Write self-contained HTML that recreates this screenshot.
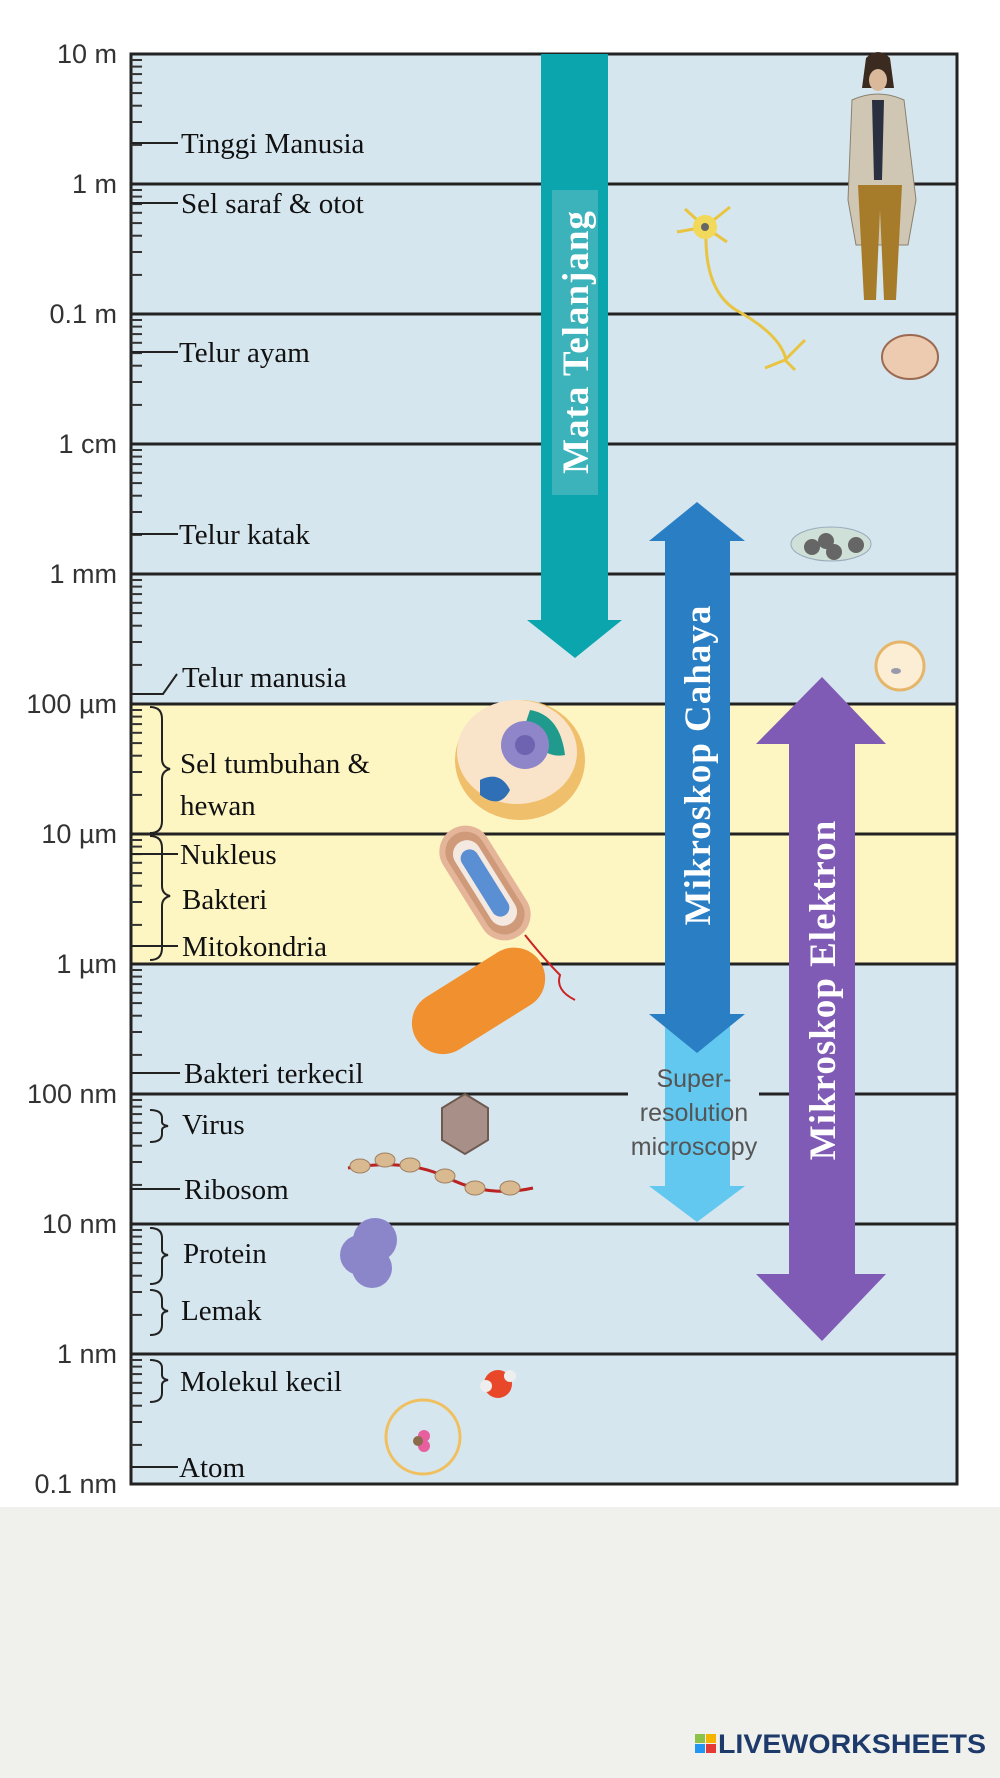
<!DOCTYPE html>
<html><head><meta charset="utf-8"><style>
html,body{margin:0;padding:0;background:#fff}
svg{display:block}
.lab{font-family:"Liberation Serif",serif;font-size:29px;fill:#111}
.ax{font-family:"Liberation Sans",sans-serif;font-size:27px;fill:#333}
.arr{font-family:"Liberation Serif",serif;font-weight:bold;font-size:37px;fill:#fff;letter-spacing:1px}
</style></head><body>
<svg width="1000" height="1778" viewBox="0 0 1000 1778" xmlns="http://www.w3.org/2000/svg">
<defs>
<g id="dec" stroke="#333" stroke-width="2">
<line x1="131" y1="-39.1" x2="142" y2="-39.1"/><line x1="131" y1="-62" x2="142" y2="-62"/>
<line x1="131" y1="-78.3" x2="142" y2="-78.3"/><line x1="131" y1="-90.9" x2="142" y2="-90.9"/>
<line x1="131" y1="-101.2" x2="142" y2="-101.2"/><line x1="131" y1="-109.9" x2="142" y2="-109.9"/>
<line x1="131" y1="-117.4" x2="142" y2="-117.4"/><line x1="131" y1="-124" x2="142" y2="-124"/>
</g>
</defs>
<rect x="0" y="0" width="1000" height="1507" fill="#fff"/>
<rect x="0" y="1507" width="1000" height="271" fill="#f0f0ec"/>
<rect x="131" y="54" width="826" height="1430" fill="#d6e6ef"/>
<rect x="131" y="704" width="826" height="260" fill="#fdf5c2"/>
<g stroke="#222" stroke-width="3">
<line x1="131" y1="184" x2="957" y2="184"/><line x1="131" y1="314" x2="957" y2="314"/>
<line x1="131" y1="444" x2="957" y2="444"/><line x1="131" y1="574" x2="957" y2="574"/>
<line x1="131" y1="704" x2="957" y2="704"/><line x1="131" y1="834" x2="957" y2="834"/>
<line x1="131" y1="964" x2="957" y2="964"/>
<line x1="131" y1="1094" x2="628" y2="1094"/><line x1="759" y1="1094" x2="957" y2="1094"/>
<line x1="131" y1="1224" x2="957" y2="1224"/><line x1="131" y1="1354" x2="957" y2="1354"/>
<rect x="131" y="54" width="826" height="1430" fill="none"/>
</g>
<use href="#dec" transform="translate(0,184)"/><use href="#dec" transform="translate(0,314)"/>
<use href="#dec" transform="translate(0,444)"/><use href="#dec" transform="translate(0,574)"/>
<use href="#dec" transform="translate(0,704)"/><use href="#dec" transform="translate(0,834)"/>
<use href="#dec" transform="translate(0,964)"/><use href="#dec" transform="translate(0,1094)"/>
<use href="#dec" transform="translate(0,1224)"/><use href="#dec" transform="translate(0,1354)"/>
<use href="#dec" transform="translate(0,1484)"/>
<g class="ax" text-anchor="end">
<text x="117" y="63">10 m</text><text x="117" y="193">1 m</text><text x="117" y="323">0.1 m</text>
<text x="117" y="453">1 cm</text><text x="117" y="583">1 mm</text><text x="117" y="713">100 µm</text>
<text x="117" y="843">10 µm</text><text x="117" y="973">1 µm</text><text x="117" y="1103">100 nm</text>
<text x="117" y="1233">10 nm</text><text x="117" y="1363">1 nm</text><text x="117" y="1493">0.1 nm</text>
</g>
<g stroke="#222" stroke-width="2" fill="none">
<line x1="131" y1="143" x2="178" y2="143"/><line x1="131" y1="203" x2="178" y2="203"/>
<line x1="131" y1="352" x2="178" y2="352"/><line x1="131" y1="534" x2="178" y2="534"/>
<polyline points="131,694 163,694 177,674"/>
<line x1="131" y1="854" x2="178" y2="854"/><line x1="131" y1="946" x2="178" y2="946"/>
<line x1="131" y1="1073" x2="180" y2="1073"/><line x1="131" y1="1189" x2="180" y2="1189"/>
<line x1="131" y1="1467" x2="178" y2="1467"/>
<path d="M150,707 q12,0 12,12 v40 q0,8 8,10 q-8,2 -8,10 v42 q0,12 -12,12"/>
<path d="M150,836 q12,0 12,12 v38 q0,8 8,10 q-8,2 -8,10 v42 q0,12 -12,12"/>
<path d="M150,1110 q12,0 12,8 v4 q0,3 6,4 q-6,1 -6,4 v4 q0,8 -12,8"/>
<path d="M150,1228 q12,0 12,10 v12 q0,4 6,5 q-6,1 -6,5 v14 q0,10 -12,10"/>
<path d="M150,1290 q12,0 12,10 v6 q0,4 6,5 q-6,1 -6,5 v9 q0,10 -12,10"/>
<path d="M150,1360 q12,0 12,8 v7 q0,4 6,5 q-6,1 -6,5 v8 q0,9 -12,9"/>
</g>
<g class="lab">
<text x="181" y="153">Tinggi Manusia</text><text x="181" y="213">Sel saraf &amp; otot</text>
<text x="179" y="362">Telur ayam</text><text x="179" y="544">Telur katak</text>
<text x="182" y="687">Telur manusia</text><text x="180" y="773">Sel tumbuhan &amp;</text>
<text x="180" y="815">hewan</text><text x="180" y="864">Nukleus</text>
<text x="182" y="909">Bakteri</text><text x="182" y="956">Mitokondria</text>
<text x="184" y="1083">Bakteri terkecil</text><text x="182" y="1134">Virus</text>
<text x="184" y="1199">Ribosom</text><text x="183" y="1263">Protein</text>
<text x="181" y="1320">Lemak</text><text x="180" y="1391">Molekul kecil</text>
<text x="179" y="1477">Atom</text>
</g>
<polygon points="541,54 608,54 608,620 622,620 575,658 527,620 541,620" fill="#0aa5ad"/>
<rect x="552" y="190" width="46" height="305" fill="#3cb3bb"/>
<text class="arr" transform="translate(588,342) rotate(-90)" text-anchor="middle">Mata Telanjang</text>
<polygon points="665,1014 730,1014 730,1186 745,1186 697,1222 649,1186 665,1186" fill="#62c8f0"/>
<polygon points="697,502 745,541 730,541 730,1014 745,1014 697,1053 649,1014 665,1014 665,541 649,541" fill="#2a7fc4"/>
<text class="arr" transform="translate(710,765) rotate(-90)" text-anchor="middle">Mikroskop Cahaya</text>
<g font-family="Liberation Sans,sans-serif" font-size="25" fill="#555" text-anchor="middle">
<text x="694" y="1087">Super-</text><text x="694" y="1121">resolution</text><text x="694" y="1155">microscopy</text>
</g>
<polygon points="822,677 886,744 855,744 855,1274 886,1274 822,1341 756,1274 789,1274 789,744 756,744" fill="#7f5bb5"/>
<text class="arr" transform="translate(835,990) rotate(-90)" text-anchor="middle">Mikroskop Elektron</text>
<g>
<path d="M866,58 q12,-12 24,0 l4,30 h-32 z" fill="#3b2a20"/>
<ellipse cx="878" cy="80" rx="9" ry="11" fill="#d9b99a"/>
<path d="M852,100 q26,-12 52,0 l12,100 -8,45 h-52 l-8,-45 z" fill="#cfc6b3" stroke="#8a806e"/>
<path d="M858,185 h44 l-6,115 h-12 l-4,-90 -4,90 h-12 z" fill="#a67c2a"/>
<path d="M872,100 h12 l-2,80 h-8 z" fill="#2a3040"/>
</g>
<g stroke="#e8c440" stroke-width="3" fill="none">
<path d="M706,230 q-2,60 30,80 q45,25 50,50"/><path d="M705,227 l-20,-18 M705,227 l25,-20 M705,227 l-28,5 M705,227 l22,15 M785,360 l20,-20 M785,360 l-20,8 M785,360 l10,10"/>
</g>
<circle cx="705" cy="227" r="12" fill="#f2d95a"/><circle cx="705" cy="227" r="4" fill="#666"/>
<ellipse cx="910" cy="357" rx="28" ry="22" fill="#eccbb0" stroke="#9b6a50" stroke-width="2"/>
<ellipse cx="831" cy="544" rx="40" ry="17" fill="#cfe0d8" stroke="#9ab"/>
<g fill="#666"><circle cx="812" cy="547" r="8"/><circle cx="826" cy="541" r="8"/><circle cx="834" cy="552" r="8"/><circle cx="856" cy="545" r="8"/></g>
<circle cx="900" cy="666" r="24" fill="#fbeed5" stroke="#e5b56a" stroke-width="3"/><ellipse cx="896" cy="671" rx="5" ry="3" fill="#99a"/>
<ellipse cx="520" cy="760" rx="65" ry="60" fill="#f0bf6c"/><ellipse cx="517" cy="752" rx="60" ry="52" fill="#f9e4c9"/>
<path d="M530,710 q30,5 35,45 q-25,5 -40,-30z" fill="#1f9a8c"/>
<circle cx="525" cy="745" r="24" fill="#8e86c8"/><circle cx="525" cy="745" r="10" fill="#6d63b0"/>
<path d="M480,780 q20,-10 30,10 q-10,20 -30,5z" fill="#2f6fb5"/>
<g transform="rotate(58 485 883)"><rect x="425" y="860" width="120" height="46" rx="23" fill="#cf9a7a" stroke="#e5b59a" stroke-width="6"/><rect x="437" y="869" width="96" height="28" rx="14" fill="#f3e9e0"/><rect x="447" y="874" width="76" height="18" rx="9" fill="#5b8fd3"/></g>
<path d="M525,935 q20,25 35,40 q-5,15 15,25" stroke="#c22" stroke-width="2" fill="none"/>
<g transform="rotate(-32 478 1000)"><rect x="405" y="970" width="146" height="62" rx="31" fill="#f0902e"/></g>
<polygon points="465,1094 488,1108 488,1140 465,1154 442,1140 442,1108" fill="#a89088" stroke="#6f5a52" stroke-width="2"/>
<path d="M348,1168 q60,-10 100,10 t85,10" stroke="#b22" stroke-width="3" fill="none"/>
<g fill="#d9b98f" stroke="#a08060"><ellipse cx="360" cy="1166" rx="10" ry="7"/><ellipse cx="385" cy="1160" rx="10" ry="7"/><ellipse cx="410" cy="1165" rx="10" ry="7"/><ellipse cx="445" cy="1176" rx="10" ry="7"/><ellipse cx="475" cy="1188" rx="10" ry="7"/><ellipse cx="510" cy="1188" rx="10" ry="7"/></g>
<g fill="#8a86c9"><circle cx="375" cy="1240" r="22"/><circle cx="360" cy="1255" r="20"/><circle cx="372" cy="1268" r="20"/></g>
<circle cx="498" cy="1384" r="14" fill="#e8472a"/><circle cx="510" cy="1376" r="6" fill="#eee"/><circle cx="486" cy="1386" r="6" fill="#eee"/>
<circle cx="423" cy="1437" r="37" fill="none" stroke="#f0c060" stroke-width="3"/>
<circle cx="424" cy="1436" r="6" fill="#e85fa0"/><circle cx="424" cy="1446" r="6" fill="#e85fa0"/><circle cx="418" cy="1441" r="5" fill="#8b6b4a"/>
<g transform="translate(695,1734)">
<rect x="0" y="0" width="10" height="9" fill="#8bc34a"/><rect x="11" y="0" width="10" height="9" fill="#f4b400"/>
<rect x="0" y="10" width="10" height="9" fill="#2196f3"/><rect x="11" y="10" width="10" height="9" fill="#e53935"/>
<text x="23" y="19" font-family="Liberation Sans,sans-serif" font-weight="bold" font-size="27" fill="#1d3a6b" textLength="268" lengthAdjust="spacingAndGlyphs">LIVEWORKSHEETS</text>
</g>
</svg>
</body></html>
